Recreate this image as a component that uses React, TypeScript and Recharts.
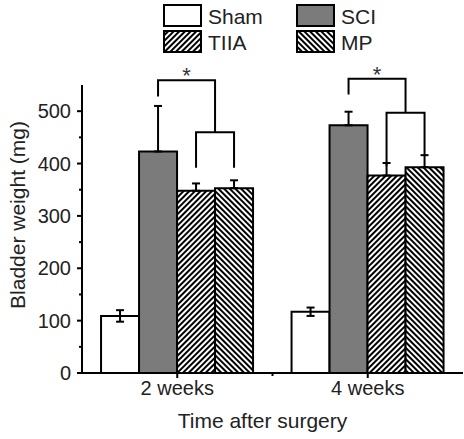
import { BarChart, Bar, XAxis, YAxis, ErrorBar, Legend, LabelList } from 'recharts';

const FONT = 'Arial, "Liberation Sans", Helvetica, sans-serif';

// values (mg)
const groups = ['2 weeks', '4 weeks'];
const sham = [109, 117];
const shamErr = [11, 8];
const sci = [423, 473];
const sciErr = [87, 26];
const tiia = [348, 377];
const tiiaErr = [14, 24];
const mp = [353, 393];
const mpErr = [15, 23];

// significance brackets, in data units
const outerTop = [559, 562];
const sciLegEnd = [528, 532];
const innerTop = [460, 497];
const tiiaLegEnd = [392, 396];
const mpLegEnd = [392, 415];

const yTicks = [0, 50, 100, 150, 200, 250, 300, 350, 400, 450, 500];
const seriesNames = ['Sham', 'SCI', 'TIIA', 'MP'];
const seriesFills = ['#ffffff', '#7b7b7b', 'url(#hatchTiia)', 'url(#hatchMp)'];

const data = groups.map((g, i) => ({
  group: g,
  sham: sham[i],
  sci: sci[i],
  tiia: tiia[i],
  mp: mp[i],
  // [below, above]
  shamErr: [shamErr[i], shamErr[i]],
  sciErr: [0, sciErr[i]],
  tiiaErr: [0, tiiaErr[i]],
  mpErr: [0, mpErr[i]],
}));

function YTick({ x, y, payload }: any) {
  const major = payload.value % 100 === 0;
  return (
    <g>
      <line x1={x - (major ? 5 : 3)} x2={x} y1={y} y2={y} stroke="#000" strokeWidth={2} />
      {major && (
        <text x={x - 11} y={y} dy="0.35em" textAnchor="end" fontSize={20} fill="#222" fontFamily={FONT}>
          {payload.value}
        </text>
      )}
    </g>
  );
}

function XTick({ x, y, payload }: any) {
  const half = payload.offset || (464 - 83) / 4;
  return (
    <g>
      <line x1={x} x2={x} y1={y} y2={y + 5} stroke="#000" strokeWidth={2} />
      {payload.index === 0 && <line x1={x + half} x2={x + half} y1={y} y2={y + 3} stroke="#000" strokeWidth={2} />}
      <text x={x} y={y + 22} textAnchor="middle" fontSize={20} fill="#222" fontFamily={FONT}>
        {payload.value}
      </text>
    </g>
  );
}

function Bracket(props: any) {
  const { x, y, width, height, value, index } = props;
  if (value == null || !height) return null;
  const k = height / value;
  const base = y + height;
  const py = (v: number) => base - v * k;
  const sciX = x + width / 2;
  const tiiaX = x + width * 1.5;
  const mpX = x + width * 2.5;
  const midX = (tiiaX + mpX) / 2;
  const top = py(outerTop[index]);
  const inner = py(innerTop[index]);
  return (
    <g stroke="#000" strokeWidth={2} fill="none">
      <polyline points={`${sciX},${py(sciLegEnd[index])} ${sciX},${top} ${midX},${top} ${midX},${inner}`} />
      <polyline points={`${tiiaX},${py(tiiaLegEnd[index])} ${tiiaX},${inner} ${mpX},${inner} ${mpX},${py(mpLegEnd[index])}`} />
      <text x={(sciX + midX) / 2} y={top + 3} textAnchor="middle" fontSize={22} fill="#333" stroke="none" fontFamily={FONT}>
        *
      </text>
    </g>
  );
}

function LegendBox({ payload }: any) {
  const colX = [164, 297];
  const rowY = [5, 31];
  return (
    <svg width={464} height={56}>
      {(payload || []).map((p: any) => {
        const i = seriesNames.indexOf(p.value);
        if (i < 0) return null;
        const bx = colX[i % 2];
        const by = rowY[Math.floor(i / 2)];
        return (
          <g key={p.value}>
            <rect x={bx} y={by} width={37} height={21} fill={seriesFills[i]} stroke="#000" strokeWidth={2} />
            <text x={bx + 44} y={by + 19} fontSize={21} fill="#222" fontFamily={FONT}>
              {p.value}
            </text>
          </g>
        );
      })}
    </svg>
  );
}

export default function App() {
  return (
    <div style={{ width: 464, height: 439, background: '#fff' }}>
      <style>{'body{margin:0}'}</style>
      <BarChart
        width={464}
        height={439}
        data={data}
        margin={{ top: 85, right: 1, bottom: 0, left: 0 }}
        barCategoryGap="10%"
        barGap={0}
      >
        <defs>
          <pattern id="hatchTiia" patternUnits="userSpaceOnUse" width={4} height={4} patternTransform="rotate(45)">
            <rect width={4} height={4} fill="#fff" />
            <rect width={2} height={4} fill="#000" />
          </pattern>
          <pattern id="hatchMp" patternUnits="userSpaceOnUse" width={4} height={4} patternTransform="rotate(-45)">
            <rect width={4} height={4} fill="#fff" />
            <rect width={2} height={4} fill="#000" />
          </pattern>
        </defs>
        <XAxis
          dataKey="group"
          height={66}
          axisLine={{ stroke: '#000', strokeWidth: 2 }}
          tickLine={false}
          tickSize={0}
          tickMargin={0}
          tick={<XTick />}
          interval={0}
          label={({ viewBox }: any) => (
            <text x={viewBox.x + viewBox.width / 2 - 10} y={viewBox.y + 55} textAnchor="middle" fontSize={21} fill="#222" fontFamily={FONT}>
              Time after surgery
            </text>
          )}
        />
        <YAxis
          width={82}
          domain={[0, 550]}
          ticks={yTicks}
          interval={0}
          axisLine={{ stroke: '#000', strokeWidth: 2 }}
          tickLine={false}
          tickSize={0}
          tickMargin={0}
          tick={<YTick />}
          label={({ viewBox }: any) => {
            const cx = 17;
            const cy = viewBox.y + viewBox.height / 2 - 14;
            return (
              <text x={cx} y={cy} transform={`rotate(-90 ${cx} ${cy})`} textAnchor="middle" dominantBaseline="central" fontSize={21} fill="#222" fontFamily={FONT}>
                Bladder weight (mg)
              </text>
            );
          }}
        />
        <Legend
          verticalAlign="middle"
          align="center"
          layout="horizontal"
          wrapperStyle={{ top: 0, left: 0, width: 464, height: 56 }}
          content={<LegendBox />}
        />
        <Bar dataKey="sham" name={seriesNames[0]} fill={seriesFills[0]} stroke="#000" strokeWidth={2} isAnimationActive={false}>
          <ErrorBar dataKey="shamErr" width={4} stroke="#000" strokeWidth={2} />
        </Bar>
        <Bar dataKey="sci" name={seriesNames[1]} fill={seriesFills[1]} stroke="#000" strokeWidth={2} isAnimationActive={false}>
          <ErrorBar dataKey="sciErr" width={4} stroke="#000" strokeWidth={2} />
          <LabelList dataKey="sci" content={<Bracket />} />
        </Bar>
        <Bar dataKey="tiia" name={seriesNames[2]} fill={seriesFills[2]} stroke="#000" strokeWidth={2} isAnimationActive={false}>
          <ErrorBar dataKey="tiiaErr" width={4} stroke="#000" strokeWidth={2} />
        </Bar>
        <Bar dataKey="mp" name={seriesNames[3]} fill={seriesFills[3]} stroke="#000" strokeWidth={2} isAnimationActive={false}>
          <ErrorBar dataKey="mpErr" width={4} stroke="#000" strokeWidth={2} />
        </Bar>
      </BarChart>
    </div>
  );
}
